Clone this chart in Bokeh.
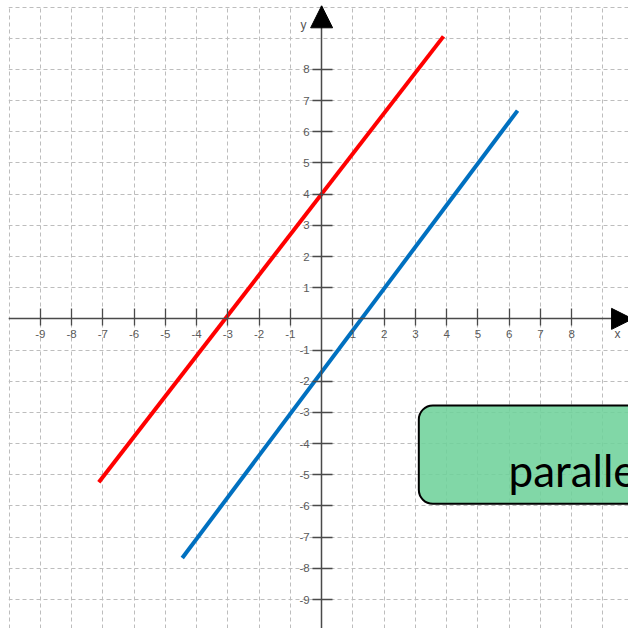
from bokeh.plotting import figure
from bokeh.models import Range1d, FixedTicker, Arrow, NormalHead
from bokeh.core.properties import value
from bokeh.embed import file_html
from bokeh.resources import INLINE

# ---- data ----
red_x = [-7.13, 3.90]
red_y = [-5.24, 9.06]
blue_x = [-4.46, 6.27]
blue_y = [-7.67, 6.68]
x_tick_vals = [-9, -8, -7, -6, -5, -4, -3, -2, -1, 1, 2, 3, 4, 5, 6, 7, 8]
y_tick_vals = [-9, -8, -7, -6, -5, -4, -3, -2, -1, 1, 2, 3, 4, 5, 6, 7, 8]
grid_vals = list(range(-10, 11))
box_left, box_right, box_bottom, box_top = [3.11], [12.0], [-5.93], [-2.78]
box_text = ["parallel"]
text_x, text_y = [5.98], [-4.86]
axis_names = ["x", "y"]
axis_name_x = [9.47, -0.58]
axis_name_y = [-0.50, 9.41]

p = figure(width=628, height=628, output_backend="svg", toolbar_location=None,
           x_range=Range1d(-10.02, 9.82), y_range=Range1d(-9.93, 10.05),
           min_border=0, min_border_left=8, min_border_top=5,
           outline_line_color=None)
p.background_fill_color = "white"
p.border_fill_color = "white"

# grid
for g in (p.xgrid, p.ygrid):
    g.ticker = FixedTicker(ticks=grid_vals)
    g.grid_line_color = "#bdbdbd"
    g.grid_line_dash = "4 3"
    g.grid_line_width = 1

# axes through origin
for ax, ticks in ((p.xaxis, x_tick_vals), (p.yaxis, y_tick_vals)):
    ax.fixed_location = 0
    ax.ticker = FixedTicker(ticks=ticks)
    ax.major_label_overrides = {t: str(t) for t in ticks}
    ax.minor_tick_line_color = None
    ax.axis_line_color = "#4a4a4a"
    ax.axis_line_width = 1.5
    ax.major_tick_line_color = "#4a4a4a"
    ax.major_tick_line_width = 1.3
    ax.major_label_text_font = "Liberation Sans"
    ax.major_label_text_font_size = "11.5px"
    ax.major_label_text_color = "#5a5a5a"
p.xaxis.major_tick_in = 10
p.xaxis.major_tick_out = 7
p.xaxis.major_label_standoff = 4
p.yaxis.major_tick_in = 11
p.yaxis.major_tick_out = 9
p.yaxis.major_label_standoff = 3

# axis arrows
p.add_layout(Arrow(end=NormalHead(size=22, fill_color="black", line_color="black"),
                   x_start=0, y_start=9.0, x_end=0, y_end=10.04, line_alpha=0))
p.add_layout(Arrow(end=NormalHead(size=21, fill_color="black", line_color="black"),
                   x_start=9.0, y_start=0, x_end=9.95, y_end=0, line_alpha=0))

p.text(x=axis_name_x, y=axis_name_y, text=axis_names, text_font=value("Liberation Sans"),
       text_font_size="12px", text_color="#555555", text_align="center", text_baseline="middle")

# lines
p.line(red_x, red_y, line_color="#ff0000", line_width=4)
p.line(blue_x, blue_y, line_color="#0070c0", line_width=4)

# label box
p.quad(left=box_left, right=box_right, bottom=box_bottom, top=box_top,
       fill_color="#6fd19b", fill_alpha=0.88, line_color="black", line_width=2,
       border_radius=14)
p.text(x=text_x, y=text_y, text=box_text, text_font=value("Lato"), text_font_size="44px",
       text_color="black", text_align="left", text_baseline="alphabetic")

open("out.html", "w").write(file_html(p, INLINE))
